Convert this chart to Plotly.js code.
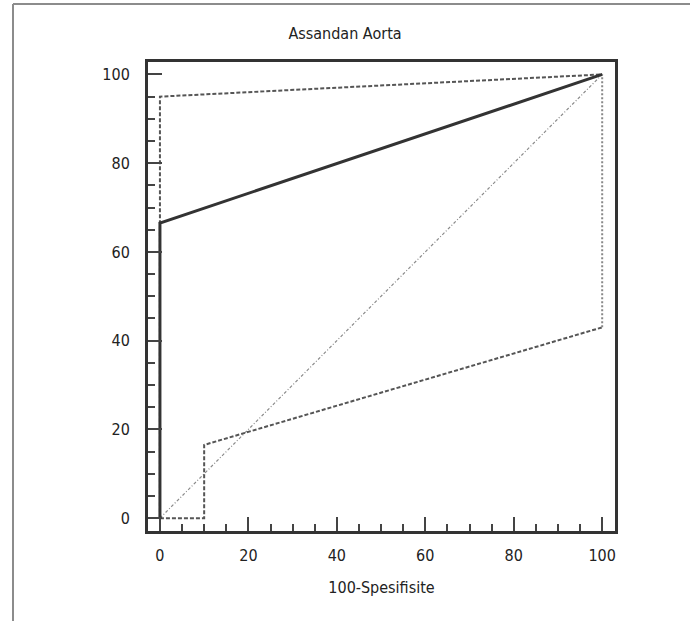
<!DOCTYPE html>
<html>
<head>
<meta charset="utf-8">
<script src="https://cdn.plot.ly/plotly-3.0.1.min.js"></script>
<style>html,body{margin:0;padding:0;background:#fff;}#chart{width:690px;height:621px;}</style>
</head>
<body>
<div id="chart"></div>
<script>
// ROC curve data (x = 100-Spesifisite, y = Sensitivity)
const rocX = [0, 0, 100];
const rocY = [0, 66.5, 100];
const upperX = [0, 0, 100];
const upperY = [0, 95, 100];
const lowerX = [0, 10, 10, 100];
const lowerY = [0, 0, 16.5, 43];
const lowerEndX = [100, 100];
const lowerEndY = [43, 100];
const diagX = [0, 100];
const diagY = [0, 100];
const tickVals = [0, 20, 40, 60, 80, 100];
const tickText = ['0', '20', '40', '60', '80', '100'];
const titleText = 'Assandan Aorta';
const xTitle = '100-Spesifisite';

const fontFam = '"DejaVu Sans Condensed", "Liberation Sans Narrow", sans-serif';

const traces = [
  {x: diagX, y: diagY, mode: 'lines', line: {color: '#8a8a8a', width: 1.2, dash: '3px,2px,1px,2px'}, hoverinfo: 'skip'},
  {x: upperX, y: upperY, mode: 'lines', line: {color: '#555', width: 2, dash: '4px,2px'}, hoverinfo: 'skip'},
  {x: lowerX, y: lowerY, mode: 'lines', line: {color: '#555', width: 2, dash: '4px,2px'}, hoverinfo: 'skip'},
  {x: lowerEndX, y: lowerEndY, mode: 'lines', line: {color: '#888', width: 2, dash: '2px,2px'}, hoverinfo: 'skip'},
  {x: rocX, y: rocY, mode: 'lines', line: {color: '#333', width: 3}, hoverinfo: 'skip'}
];

const axisCommon = {
  showline: true, mirror: true, linecolor: '#333', linewidth: 3,
  showgrid: false, zeroline: false,
  ticks: 'inside', ticklen: 14, tickwidth: 2, tickcolor: '#444',
  tickvals: tickVals, ticktext: tickText,
  tickfont: {family: fontFam, size: 16, color: '#222'},
  minor: {dtick: 5, tick0: 0, ticks: 'inside', ticklen: 7, tickwidth: 2, tickcolor: '#444', showgrid: false}
};

// plot area in pixels: x 148..615, y 62..531
const PW = 467, PH = 469;
const px = p => (p - 148) / PW;
const py = p => (531 - p) / PH;

const layout = {
  width: 690, height: 621,
  margin: {l: 148, r: 75, t: 62, b: 90},
  paper_bgcolor: '#fff', plot_bgcolor: '#fff',
  showlegend: false,
  title: {text: titleText, font: {family: fontFam, size: 16, color: '#222'}, x: 0.5, xref: 'container', y: 1 - 33/621, yref: 'container', yanchor: 'middle'},
  xaxis: Object.assign({}, axisCommon, {range: [-2.7, 102.9], ticklabelstandoff: 8,
    title: {text: xTitle, font: {family: fontFam, size: 16, color: '#222'}, standoff: 18}}),
  yaxis: Object.assign({}, axisCommon, {range: [-2.9, 102.8], ticklabelstandoff: 12}),
  shapes: [
    {type: 'line', xref: 'paper', yref: 'paper', x0: px(13), x1: px(692), y0: py(4), y1: py(4), line: {color: '#8c8c8c', width: 2}},
    {type: 'line', xref: 'paper', yref: 'paper', x0: px(13), x1: px(13), y0: py(623), y1: py(4), line: {color: '#8c8c8c', width: 2}}
  ]
};

Plotly.newPlot('chart', traces, layout, {displayModeBar: false, staticPlot: true});
</script>
</body>
</html>
